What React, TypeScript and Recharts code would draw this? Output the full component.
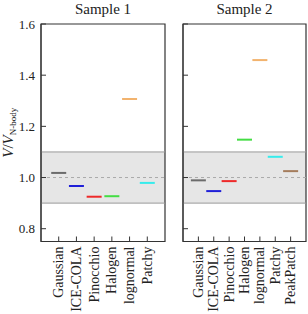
import React from 'react';
import {
  ScatterChart,
  Scatter,
  XAxis,
  YAxis,
  ReferenceArea,
  ReferenceLine,
  Label,
} from 'recharts';

const sample1Methods = ['Gaussian', 'ICE-COLA', 'Pinocchio', 'Halogen', 'lognormal', 'Patchy'];
const sample1Ratios = [1.018, 0.967, 0.925, 0.927, 1.307, 0.979];

const sample2Methods = ['Gaussian', 'ICE-COLA', 'Pinocchio', 'Halogen', 'lognormal', 'Patchy', 'PeakPatch'];
const sample2Ratios = [0.989, 0.947, 0.986, 1.148, 1.459, 1.081, 1.025];

const yTicks = [0.8, 1.0, 1.2, 1.4, 1.6];

const methodColors: Record<string, string> = {
  Gaussian: '#6b6b6b',
  'ICE-COLA': '#2020d8',
  Pinocchio: '#ee2a2a',
  Halogen: '#44dd44',
  lognormal: '#f2b36e',
  Patchy: '#36ecec',
  PeakPatch: '#a47c5c',
};

const FONT = '"Liberation Serif", "DejaVu Serif", serif';
const AXIS = '#333';

interface Point {
  pos: number;
  ratio: number;
  method: string;
}

function toPoints(methods: string[], ratios: number[]): Point[] {
  return methods.map((m, i) => ({ pos: i + 1, ratio: ratios[i], method: m }));
}

function Marker(props: any) {
  const { cx, cy, payload } = props;
  if (cx == null || cy == null) return null;
  return (
    <line
      x1={cx - 7.5}
      x2={cx + 7.5}
      y1={cy}
      y2={cy}
      stroke={methodColors[payload.method]}
      strokeWidth={2}
    />
  );
}

function makeXTick(methods: string[]) {
  return function XTick(props: any) {
    const { x, y, payload } = props;
    return (
      <g transform={`translate(${x},${y})`}>
        <text
          transform="rotate(-90)"
          textAnchor="end"
          x={0}
          y={0}
          dy={4.5}
          fontSize={14}
          fill="#222"
          fontFamily={FONT}
        >
          {methods[payload.value - 1]}
        </text>
      </g>
    );
  };
}

function YLabel(props: any) {
  const { viewBox } = props;
  const cy = viewBox.y + viewBox.height / 2;
  const x = 12.5;
  return (
    <text
      transform={`rotate(-90, ${x}, ${cy})`}
      x={x}
      y={cy}
      textAnchor="middle"
      fontFamily={FONT}
      fill="#222"
      fontSize={15}
    >
      <tspan fontStyle="italic">V</tspan>
      <tspan>/</tspan>
      <tspan fontStyle="italic">V</tspan>
      <tspan fontSize={9} dy={3}>N-body</tspan>
    </text>
  );
}

interface PanelProps {
  methods: string[];
  ratios: number[];
  width: number;
  yAxisWidth: number;
  rightMargin: number;
  showYLabels: boolean;
}

function Panel({ methods, ratios, width, yAxisWidth, rightMargin, showYLabels }: PanelProps) {
  const data = toPoints(methods, ratios);
  const xMax = methods.length + 1;
  const xTicks = methods.map((_, i) => i + 1);
  return (
    <ScatterChart
      width={width}
      height={314}
      margin={{ top: 24, right: rightMargin, bottom: 0, left: 0 }}
    >
      <XAxis
        type="number"
        dataKey="pos"
        domain={[0, xMax]}
        ticks={xTicks}
        interval={0}
        height={72.5}
        tickSize={-5}
        tickMargin={10}
        tick={makeXTick(methods)}
        axisLine={{ stroke: AXIS }}
        tickLine={{ stroke: AXIS }}
      />
      <YAxis
        type="number"
        dataKey="ratio"
        domain={[0.75, 1.6]}
        ticks={yTicks}
        interval={0}
        width={yAxisWidth}
        tickSize={-5}
        tickMargin={11}
        tickFormatter={(v: number) => (showYLabels ? v.toFixed(1) : '')}
        tick={{ fontSize: 13, fill: '#222', fontFamily: FONT }}
        axisLine={{ stroke: AXIS }}
        tickLine={{ stroke: AXIS }}
      >
        {showYLabels && <Label content={<YLabel />} />}
      </YAxis>
      <ReferenceArea y1={0.9} y2={1.1} x1={0} x2={xMax} fill="#e6e6e6" fillOpacity={1} stroke="none" />
      <ReferenceLine y={1.1} stroke="#999" strokeWidth={1} />
      <ReferenceLine y={0.9} stroke="#999" strokeWidth={1} />
      <ReferenceLine y={1.0} stroke="#aaa" strokeWidth={1} strokeDasharray="3 3" />
      <ReferenceArea
        y1={0.75}
        y2={1.6}
        x1={0}
        x2={xMax}
        fill="none"
        fillOpacity={0}
        stroke={AXIS}
        strokeWidth={1.2}
      />
      <Scatter data={data} shape={<Marker />} isAnimationActive={false} />
    </ScatterChart>
  );
}

export default function App() {
  return (
    <div
      style={{
        position: 'absolute',
        left: 0,
        top: 0,
        width: 308,
        height: 314,
        overflow: 'hidden',
        background: '#fff',
        fontFamily: FONT,
      }}
    >
      <div
        style={{
          position: 'absolute',
          top: 1,
          left: 41,
          width: 124,
          textAlign: 'center',
          fontSize: 15,
          lineHeight: '16.6px',
          color: '#222',
        }}
      >
        Sample 1
      </div>
      <div
        style={{
          position: 'absolute',
          top: 1,
          left: 183,
          width: 123,
          textAlign: 'center',
          fontSize: 15,
          lineHeight: '16.6px',
          color: '#222',
        }}
      >
        Sample 2
      </div>
      <div style={{ position: 'absolute', left: 0, top: 0 }}>
        <Panel
          methods={sample1Methods}
          ratios={sample1Ratios}
          width={170}
          yAxisWidth={41}
          rightMargin={5}
          showYLabels
        />
      </div>
      <div style={{ position: 'absolute', left: 170, top: 0 }}>
        <Panel
          methods={sample2Methods}
          ratios={sample2Ratios}
          width={138}
          yAxisWidth={13}
          rightMargin={2}
          showYLabels={false}
        />
      </div>
    </div>
  );
}
